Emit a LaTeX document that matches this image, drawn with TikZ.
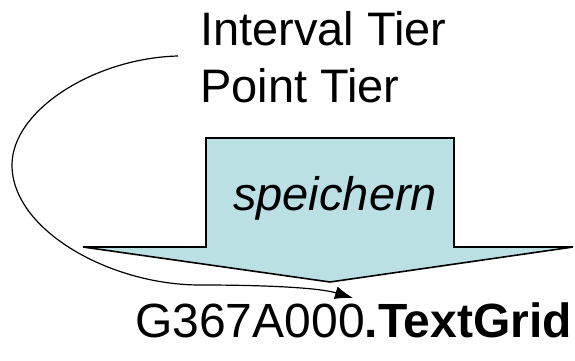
\documentclass[tikz,border=0pt]{standalone}
\usepackage{fontspec}
\setmainfont{Liberation Sans}
\usetikzlibrary{arrows.meta}
\definecolor{arrowfill}{RGB}{186,224,227}
\tikzset{
  label text/.style={inner sep=0pt, anchor=base west, font=\fontsize{47}{56}\selectfont},
  big arrow/.style={draw=black, line width=1.6pt, fill=arrowfill, line join=miter},
  link/.style={draw=black, line width=1.2pt, -{Latex[length=18pt,width=13pt]}}
}
\begin{document}
\begin{tikzpicture}[x=1pt,y=1pt]
  \useasboundingbox (0,0) rectangle (575,360);
  % block arrow pointing down
  \path[big arrow] (206,222) -- (454,222) -- (454,113) -- (573,113)
        -- (330,78) -- (83,113) -- (206,113) -- cycle;
  \node[label text] (save) at (233,150) {\itshape speichern};
  % texts
  \node[label text] (interval) at (200,315) {Interval Tier};
  \node[label text] (point) at (200,258) {Point Tier};
  \node[label text, font=\fontsize{48}{56}\selectfont] (file) at (135,23) {G367A000\textbf{.TextGrid}};
  % connector from the tiers around to the file
  \coordinate (from) at (178,304);
  \coordinate (to) at (353,62);
  \draw[link] (from) .. controls (95,302) and (12,250) .. (12,195)
        .. controls (12,130) and (110,75) .. (200,75)
        .. controls (270,75) and (320,72) .. (to);
\end{tikzpicture}
\end{document}
